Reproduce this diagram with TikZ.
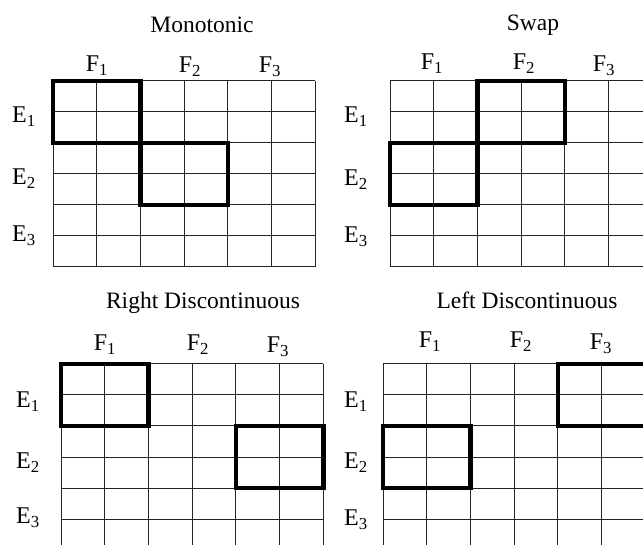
\documentclass[tikz,border=0pt]{standalone}
\usepackage{fontspec}
\setmainfont{Liberation Serif}
\newcommand\gridat[2]{%
  \foreach \i in {0,...,6} {%
    \draw[gridline] ({#1+\i*43.7},#2) -- ({#1+\i*43.7},{#2+186});
    \draw[gridline] (#1,{#2+\i*31}) -- ({#1+262.2},{#2+\i*31});
  }}
\newcommand\hibox[4]{%
  \draw[hiline] ({#1+#3*43.7},{#2+#4*31}) rectangle ++(87.4,62);}
\begin{document}
\begin{tikzpicture}[x=1pt,y=-1pt,
  gridline/.style={line width=1pt, black!85},
  hiline/.style={line width=4.6pt, black, line join=miter},
  lbl/.style={font=\fontsize{24}{28}\selectfont, inner sep=0pt},
  ttl/.style={font=\fontsize{23.5}{28}\selectfont, inner sep=0pt}]
\useasboundingbox (0,0) rectangle (643,545);
\clip (0,0) rectangle (643,545);
% Panel 1: Monotonic
\gridat{53}{81}
\hibox{53}{81}{0}{0}
\hibox{53}{81}{2}{2}
\node[ttl] (t1) at (202,25) {Monotonic};
\node[lbl] (a1) at (97,66) {F\textsubscript{1}};
\node[lbl] (a2) at (190,67) {F\textsubscript{2}};
\node[lbl] (a3) at (270,67) {F\textsubscript{3}};
\node[lbl] (b1) at (24,117) {E\textsubscript{1}};
\node[lbl] (b2) at (24,179) {E\textsubscript{2}};
\node[lbl] (b3) at (24,236) {E\textsubscript{3}};
% Panel 2: Swap
\gridat{390}{81}
\hibox{390}{81}{2}{0}
\hibox{390}{81}{0}{2}
\node[ttl] (t2) at (533,25) {Swap};
\node[lbl] (c1) at (432,64) {F\textsubscript{1}};
\node[lbl] (c2) at (524,64) {F\textsubscript{2}};
\node[lbl] (c3) at (604,66) {F\textsubscript{3}};
\node[lbl] (d1) at (356,117) {E\textsubscript{1}};
\node[lbl] (d2) at (356,180) {E\textsubscript{2}};
\node[lbl] (d3) at (356,237) {E\textsubscript{3}};
% Panel 3: Right Discontinuous
\gridat{61}{364}
\hibox{61}{364}{0}{0}
\hibox{61}{364}{4}{2}
\node[ttl] (t3) at (203,303) {Right Discontinuous};
\node[lbl] (e1) at (105,345) {F\textsubscript{1}};
\node[lbl] (e2) at (198,345) {F\textsubscript{2}};
\node[lbl] (e3) at (278,347) {F\textsubscript{3}};
\node[lbl] (f1) at (28,402) {E\textsubscript{1}};
\node[lbl] (f2) at (28,463) {E\textsubscript{2}};
\node[lbl] (f3) at (28,518) {E\textsubscript{3}};
% Panel 4: Left Discontinuous
\gridat{383}{364}
\hibox{383}{364}{4}{0}
\hibox{383}{364}{0}{2}
\node[ttl] (t4) at (527,300) {Left Discontinuous};
\node[lbl] (g1) at (430,342) {F\textsubscript{1}};
\node[lbl] (g2) at (521,342) {F\textsubscript{2}};
\node[lbl] (g3) at (601,344) {F\textsubscript{3}};
\node[lbl] (h1) at (356,402) {E\textsubscript{1}};
\node[lbl] (h2) at (356,463) {E\textsubscript{2}};
\node[lbl] (h3) at (356,520) {E\textsubscript{3}};
\end{tikzpicture}
\end{document}
